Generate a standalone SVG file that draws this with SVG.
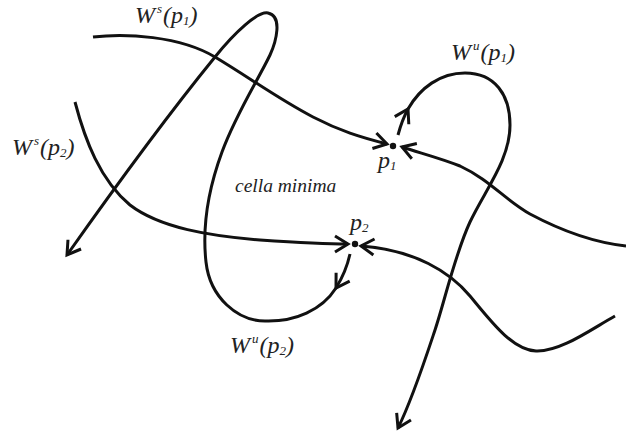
<svg xmlns="http://www.w3.org/2000/svg" width="626" height="432" viewBox="0 0 626 432">
<style>
.c{fill:none;stroke:#111;stroke-width:3;stroke-linecap:butt;stroke-linejoin:round}
.t{font-family:"Liberation Serif","Times New Roman",serif;font-style:italic;font-size:24px;fill:#222}
.s{font-size:13px}
.cm{font-family:"Liberation Serif","Times New Roman",serif;font-style:italic;font-size:19.5px;fill:#222}
</style>
<defs>
<marker id="ah" markerUnits="userSpaceOnUse" orient="auto" overflow="visible" markerWidth="1" markerHeight="1" refX="0" refY="0">
<path d="M-13,-8 L0,0 L-13,8" fill="none" stroke="#111" stroke-width="3" stroke-linejoin="miter"/>
</marker>
</defs>
<rect width="626" height="432" fill="#fff"/>
<g id="connectors">
<path id="Ws-p1-left" class="c" d="M93,37 C125,33 180,36 215,57 C250,78 280,100 313,117 C340,131 360,137 387,144" marker-end="url(#ah)"/>
<path id="Ws-p1-right" class="c" d="M626,246 C590,242 560,230 530,214 C505,200 490,180 460,166 C440,158 420,153 402,147" marker-end="url(#ah)"/>
<path id="Wu-p1-a" class="c" d="M398,135 Q402,120 408,109" marker-end="url(#ah)"/>
<path id="Wu-p1-b" class="c" d="M408,109 C420,88 440,73 465,73 C495,73 510,95 510,125 C510,160 485,190 470,222 C455,254 445,300 435,330 C425,360 412,400 398,428" marker-end="url(#ah)"/>
<path id="Ws-p2-left" class="c" d="M75,102 C85,140 100,180 130,205 C160,228 210,236 260,240 C290,242 320,244 348,244" marker-end="url(#ah)"/>
<path id="Ws-p2-right" class="c" d="M615,316 C590,330 560,352 536,351 C512,350 490,320 470,296 C450,272 415,250 361,246" marker-end="url(#ah)"/>
<path id="Wu-p2-a" class="c" d="M350,254 Q346,272 336,288" marker-end="url(#ah)"/>
<path id="Wu-p2-b" class="c" d="M336,288 C322,310 295,322 265,321 C238,321 210,298 206,262 C202,226 208,190 222,152 C236,114 258,80 270,55 C276,42 283,16 268,13 C258,11 235,32 215,57 C180,100 120,180 67,255" marker-end="url(#ah)"/>
</g>
<g id="p1">
<circle cx="393" cy="146" r="3.2" fill="#111"/>
<text class="t" x="378" y="168">p<tspan class="s" dy="2">1</tspan></text>
</g>
<g id="p2">
<circle cx="355" cy="244" r="3.2" fill="#111"/>
<text class="t" x="350" y="230">p<tspan class="s" dy="2">2</tspan></text>
</g>
<g id="labels">
<text class="t" x="135" y="23">W<tspan class="s" dx="2" dy="-10">s</tspan><tspan dx="1" dy="10">(p</tspan><tspan class="s" dy="2">1</tspan><tspan dy="-2">)</tspan></text>
<text class="t" x="451" y="60">W<tspan class="s" dx="2" dy="-10">u</tspan><tspan dx="1" dy="10">(p</tspan><tspan class="s" dy="2">1</tspan><tspan dy="-2">)</tspan></text>
<text class="t" x="12" y="155">W<tspan class="s" dx="2" dy="-10">s</tspan><tspan dx="1" dy="10">(p</tspan><tspan class="s" dy="2">2</tspan><tspan dy="-2">)</tspan></text>
<text class="t" x="230" y="353">W<tspan class="s" dx="2" dy="-10">u</tspan><tspan dx="1" dy="10">(p</tspan><tspan class="s" dy="2">2</tspan><tspan dy="-2">)</tspan></text>
<text class="cm" x="235" y="192">cella minima</text>
</g>
</svg>
